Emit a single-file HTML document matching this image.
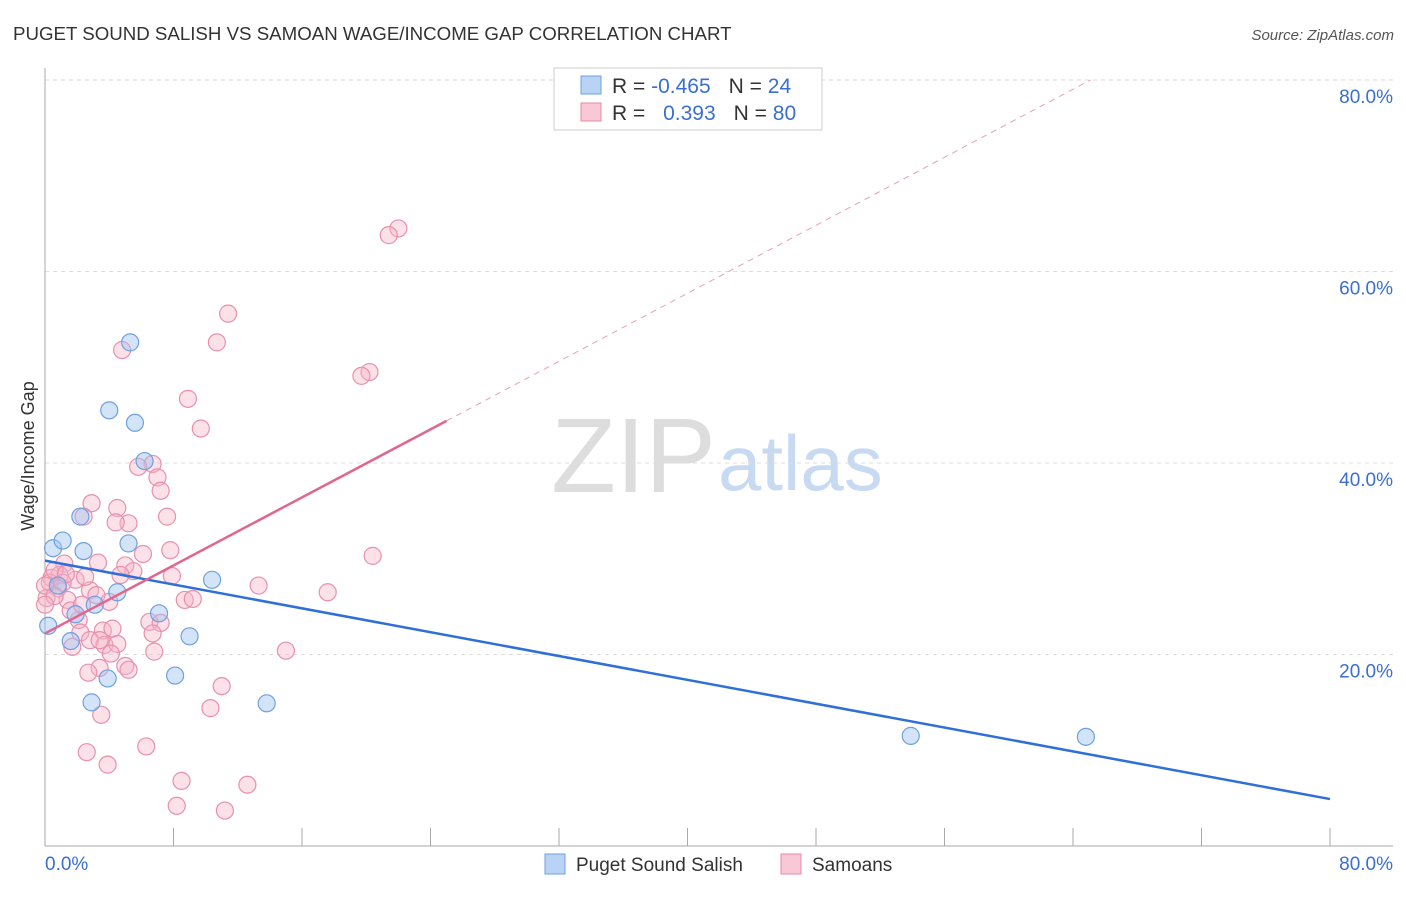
<!DOCTYPE html>
<html><head><meta charset="utf-8"><style>
body{margin:0;background:#fff;font-family:"Liberation Sans",sans-serif}
svg text{font-family:"Liberation Sans",sans-serif}
</style></head><body>
<svg id="c" width="1406" height="892">
<text x="13" y="40" font-size="18.7" fill="#333">PUGET SOUND SALISH VS SAMOAN WAGE/INCOME GAP CORRELATION CHART</text>
<text x="1394" y="40" font-size="15" fill="#555" font-style="italic" text-anchor="end">Source: ZipAtlas.com</text>
<text x="716" y="492" font-size="106" fill="#ddd" text-anchor="end" font-family="Liberation Serif">ZIP</text>
<text x="718" y="490" font-size="78" fill="#c8daf2">atlas</text>
<g id="grid"></g><g id="pts"></g><g id="lines"></g>
<text transform="translate(34,456) rotate(-90)" font-size="18" fill="#333" text-anchor="middle">Wage/Income Gap</text>
<g>
<rect x="554" y="68" width="268" height="62" fill="#fff" stroke="#ccc"/>
<rect x="581" y="76" width="20" height="18" fill="#b8d3f4" stroke="#6fa0e0"/>
<rect x="581" y="103" width="20" height="18" fill="#f9c8d6" stroke="#e888a8"/>
<text x="612" y="93" font-size="21" fill="#333">R = <tspan fill="#3a6fd0">-0.465</tspan><tspan dx="18">N = </tspan><tspan fill="#3a6fd0">24</tspan></text>
<text x="612" y="120" font-size="21" fill="#333">R = <tspan fill="#3a6fd0" dx="12">0.393</tspan><tspan dx="18">N = </tspan><tspan fill="#3a6fd0">80</tspan></text>
</g>
<g>
<rect x="545" y="854" width="20" height="20" fill="#b8d3f4" stroke="#6fa0e0"/>
<text x="576" y="871" font-size="19" fill="#333">Puget Sound Salish</text>
<rect x="781" y="854" width="20" height="20" fill="#f9c8d6" stroke="#e888a8"/>
<text x="812" y="871" font-size="19" fill="#333">Samoans</text>
</g>
</svg>
<script>
const yTicks=[20,40,60,80];
const yTickLabels=["20.0%","40.0%","60.0%","80.0%"];
const xTicks=[0,8,16,24,32,40,48,56,64,72,80];
const blueX=[0.5,1.1,2.2,2.4,5.3,4.0,5.6,6.2,5.2,0.2,1.6,1.9,3.1,4.5,10.4,7.1,9.0,3.9,8.1,2.9,13.8,53.9,64.8,0.8];
const blueY=[31.1,31.9,34.4,30.8,52.6,45.5,44.2,40.2,31.6,23.0,21.4,24.2,25.2,26.5,27.8,24.3,21.9,17.5,17.8,15.0,14.9,11.5,11.4,27.2];
const pinkX=[22.0,21.4,11.4,10.7,4.8,20.2,19.7,8.9,9.7,6.7,5.8,7.0,7.2,2.9,2.4,4.5,5.2,4.4,7.6,7.8,6.1,20.4,1.2,3.3,5.0,5.5,7.9,1.9,0.4,0.9,0.3,0.8,2.8,13.3,17.6,3.2,4.0,8.7,9.2,1.4,0.1,2.1,6.5,7.2,6.7,2.2,3.6,4.2,2.8,3.7,4.5,1.7,4.1,5.0,5.2,3.4,2.7,6.8,15.0,11.0,10.3,3.5,6.3,2.6,3.9,8.5,8.2,12.6,11.2,0.6,1.1,1.6,0.0,0.6,2.3,4.7,1.3,2.5,0.0,3.4];
const pinkY=[64.5,63.8,55.6,52.6,51.8,49.5,49.1,46.7,43.6,39.9,39.6,38.5,37.1,35.8,34.4,35.3,33.7,33.8,34.4,30.9,30.5,30.3,29.5,29.6,29.3,28.7,28.2,27.8,28.0,28.3,27.5,26.9,26.7,27.2,26.5,26.2,25.5,25.7,25.8,25.7,25.9,23.6,23.4,23.3,22.2,22.3,22.5,22.7,21.5,21.0,21.1,20.8,20.1,18.8,18.4,18.6,18.1,20.3,20.4,16.7,14.4,13.7,10.4,9.8,8.5,6.8,4.2,6.4,3.7,28.8,27.5,24.6,27.2,26.1,25.2,28.3,28.4,28.1,25.2,21.5];
const blueTrend=[29.8,4.9];   // y at x=0, x=80
const pinkTrend=[22.2,0.888]; // intercept, slope
const pinkSolidEnd=25;
const NS='http://www.w3.org/2000/svg';
const sx=v=>45+v*(1285/80), sy=v=>846-v*(766/80);
function mk(t,a,p){const e=document.createElementNS(NS,t);for(const k in a)e.setAttribute(k,a[k]);p.appendChild(e);return e;}
const grid=document.getElementById('grid');
yTicks.forEach((t,i)=>{
 const l=mk('line',{x1:45,x2:1393,y1:sy(t),y2:sy(t),stroke:'#ddd','stroke-dasharray':'4,4'},grid);
 
 
 const tx=mk('text',{x:1393,y:sy(t)+23,'font-size':19,fill:'#3a6fd0','text-anchor':'end'},grid);
 tx.textContent=yTickLabels[i];
 
 
});
mk('line',{x1:45,x2:45,y1:68,y2:846,stroke:'#aaa'},grid);
mk('line',{x1:45,x2:1393,y1:846,y2:846,stroke:'#aaa'},grid);
xTicks.forEach(t=>{const l=mk('line',{x1:sx(t),x2:sx(t),y1:828,y2:846,stroke:'#aaa'},grid);
 
 });
let a=mk('text',{x:45,y:870,'font-size':19,fill:'#3a6fd0'},grid);a.textContent='0.0%';


a=mk('text',{x:1393,y:870,'font-size':19,fill:'#3a6fd0','text-anchor':'end'},grid);a.textContent='80.0%';


const pts=document.getElementById('pts');
pinkX.forEach((x,i)=>{const c=mk('circle',{cx:sx(x),cy:sy(pinkY[i]),r:8.5,fill:'rgba(248,180,200,0.4)',stroke:'#e890ae','stroke-width':1.2},pts);
 
 });
blueX.forEach((x,i)=>{const c=mk('circle',{cx:sx(x),cy:sy(blueY[i]),r:8.5,fill:'rgba(160,196,240,0.45)',stroke:'#6fa0e0','stroke-width':1.2},pts);
 
 });
const lines=document.getElementById('lines');
let l=mk('line',{x1:sx(0),y1:sy(blueTrend[0]),x2:sx(80),y2:sy(blueTrend[1]),stroke:'#2f6fd6','stroke-width':2.5},lines);


l=mk('line',{x1:sx(0),y1:sy(pinkTrend[0]),x2:sx(pinkSolidEnd),y2:sy(pinkTrend[0]+pinkTrend[1]*pinkSolidEnd),stroke:'#e06690','stroke-width':2.5},lines);


const xEnd=(80-pinkTrend[0])/pinkTrend[1];
l=mk('line',{x1:sx(pinkSolidEnd),y1:sy(pinkTrend[0]+pinkTrend[1]*pinkSolidEnd),x2:sx(xEnd),y2:sy(80),stroke:'#e8a0b8','stroke-width':1,'stroke-dasharray':'6,5'},lines);


</script>
</body></html>
